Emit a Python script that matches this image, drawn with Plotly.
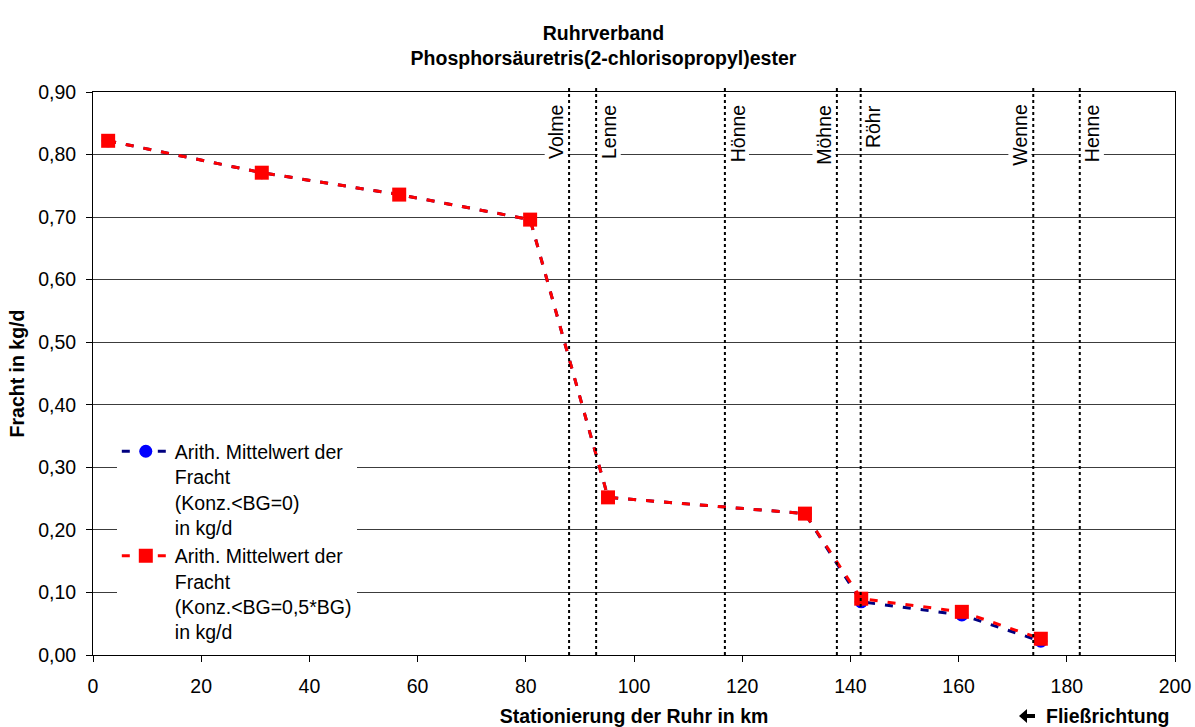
import plotly.graph_objects as go

# Stationierung der Messstellen (km) und mittlere Frachten (kg/d)
station_km = [2.8, 31.2, 56.6, 80.8, 95.2, 131.6, 142.0, 160.6, 175.2]
fracht_bg0 = [0.822, 0.771, 0.736, 0.696, 0.252, 0.226, 0.085, 0.064, 0.022]
fracht_bg05 = [0.822, 0.771, 0.736, 0.696, 0.252, 0.226, 0.090, 0.069, 0.026]

# Mündungen der Nebenflüsse
tributaries = ["Volme", "Lenne", "Hönne", "Möhne", "Röhr", "Wenne", "Henne"]
tributary_km = [88.0, 93.0, 116.8, 137.5, 141.9, 173.8, 182.4]
label_side = ["left", "right", "right", "left", "right", "left", "right"]

y_ticks = [0.0, 0.1, 0.2, 0.3, 0.4, 0.5, 0.6, 0.7, 0.8, 0.9]
y_tick_text = ["0,00", "0,10", "0,20", "0,30", "0,40", "0,50", "0,60", "0,70", "0,80", "0,90"]
x_ticks = [0, 20, 40, 60, 80, 100, 120, 140, 160, 180, 200]

FONT = "Arial, 'Liberation Sans', sans-serif"
FS = 19.5
DASH = "8px,10px"

W, H = 1195, 727
M_L, M_R, M_T, M_B = 93, 20, 92, 72
PW, PH = W - M_L - M_R, H - M_T - M_B


def to_paper(px, py):
    """Convert page pixels to paper coordinates."""
    return (px - M_L) / PW, (H - M_B - py) / PH


fig = go.Figure()

fig.add_trace(go.Scatter(
    x=station_km, y=fracht_bg0, mode="lines+markers",
    name="Arith. Mittelwert der<br>Fracht<br>(Konz.<BG=0)<br>in kg/d",
    line=dict(color="#000080", width=3, dash=DASH),
    marker=dict(symbol="circle", size=13, color="#0000FF"),
))
fig.add_trace(go.Scatter(
    x=station_km, y=fracht_bg05, mode="lines+markers",
    name="Arith. Mittelwert der<br>Fracht<br>(Konz.<BG=0,5*BG)<br>in kg/d",
    line=dict(color="#FF0000", width=3, dash=DASH),
    marker=dict(symbol="square", size=14, color="#FF0000"),
))

shapes = []
annotations = []
for name, km, side in zip(tributaries, tributary_km, label_side):
    # dotted marker line of the tributary mouth, slightly above the frame
    shapes.append(dict(
        type="line", xref="x", yref="paper", x0=km, x1=km, y0=0, y1=1.011,
        line=dict(color="black", width=2, dash="3px,3px"), layer="above",
    ))
    annotations.append(dict(
        x=km, y=0.881, xref="x", yref="y", text=name, showarrow=False,
        textangle=-90, xanchor="right" if side == "left" else "left",
        yanchor="top", xshift=-1 if side == "left" else 1,
        bgcolor="white", font=dict(family=FONT, size=FS, color="black"),
        borderpad=0,
    ))

# flow direction arrow (filled, pointing left) left of the label
arrow_px = [(1019, 716), (1027, 709), (1027, 714), (1035, 714),
            (1035, 718), (1027, 718), (1027, 723)]
arrow_pts = [to_paper(px, py) for px, py in arrow_px]
path = "M " + " L ".join(f"{x:.5f},{y:.5f}" for x, y in arrow_pts) + " Z"
shapes.append(dict(type="path", xref="paper", yref="paper", path=path,
                   fillcolor="black", line=dict(width=0)))

annotations.append(dict(
    x=1.0, y=to_paper(0, 716)[1], xref="paper", yref="paper",
    text="<b>Fließrichtung</b>", showarrow=False,
    xanchor="right", yanchor="middle", xshift=-3,
    font=dict(family=FONT, size=FS, color="black"),
))

fig.update_layout(
    width=W, height=H,
    margin=dict(l=M_L, r=M_R, t=M_T, b=M_B),
    paper_bgcolor="white", plot_bgcolor="white",
    font=dict(family=FONT, size=FS, color="black"),
    title=dict(
        text="<b>Ruhrverband<br>Phosphorsäuretris(2-chlorisopropyl)ester</b>",
        x=0.505, xanchor="center", xref="container",
        y=1 - 39.5 / H, yanchor="middle", yref="container",
        font=dict(family=FONT, size=FS, color="black"),
    ),
    xaxis=dict(
        range=[0, 200], tickvals=x_ticks, ticks="outside", ticklen=6,
        tickcolor="black", showline=True, linecolor="black", linewidth=1,
        mirror=True, showgrid=False, zeroline=False, ticklabelstandoff=8,
        automargin=False,
        title=dict(text="<b>Stationierung der Ruhr in km</b>", standoff=12,
                   font=dict(family=FONT, size=FS)),
        tickfont=dict(family=FONT, size=FS),
    ),
    yaxis=dict(
        range=[0, 0.9], tickvals=y_ticks, ticktext=y_tick_text,
        ticks="outside", ticklen=6, tickcolor="black",
        showline=True, linecolor="black", linewidth=1, mirror=True,
        showgrid=True, gridcolor="#3c3c3c", gridwidth=1, zeroline=False,
        ticklabelstandoff=6, automargin=False,
        title=dict(text="<b>Fracht in kg/d</b>", standoff=8,
                   font=dict(family=FONT, size=FS)),
        tickfont=dict(family=FONT, size=FS),
    ),
    legend=dict(
        x=0.022, y=0.396, xanchor="left", yanchor="top", valign="top",
        bgcolor="white", font=dict(family=FONT, size=FS, color="black"),
        itemwidth=48, tracegroupgap=2,
    ),
    shapes=shapes,
    annotations=annotations,
)

fig.write_html("out.html")
